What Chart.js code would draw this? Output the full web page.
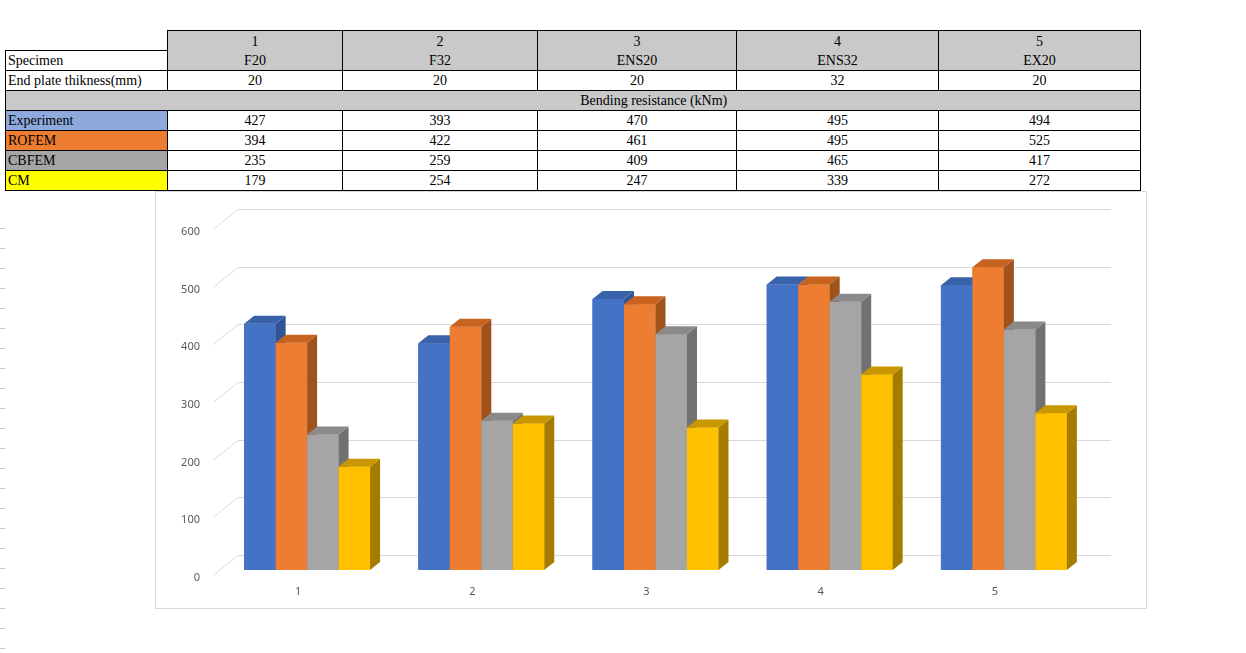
<!DOCTYPE html>
<html>
<head>
<meta charset="utf-8">
<script src="https://cdn.jsdelivr.net/npm/chart.js@4.4.0/dist/chart.umd.min.js"></script>
<style>
  body { margin: 0; background: #fff; width: 1246px; height: 653px; overflow: hidden; position: relative; }
  #data { position: absolute; left: 5px; top: 30px; border-collapse: collapse; table-layout: fixed;
          font-family: "Liberation Serif", "Times New Roman", serif; font-size: 14px; color: #000; }
  #data td { border: 1px solid #000; height: 18px; padding: 1px 2px 0 2px; text-align: center; line-height: 18px; white-space: nowrap; }
  #data td.name { text-align: left; }
  #data td.head { background: #c9c9c9; line-height: 19px; }
  #data td.blank { border: none; }
  #data td.grey { background: #c9c9c9; }
  #box { position: absolute; left: 155px; top: 191px; width: 990px; height: 416px; border: 1px solid #d9d9d9; background: #fff; }
  #dashes { position: absolute; left: 0; top: 228px; width: 5px; height: 424px;
            background: repeating-linear-gradient(to bottom, #c8c8c8 0, #c8c8c8 1px, transparent 1px, transparent 20px); }
</style>
</head>
<body>
<table id="data"></table>
<div id="dashes"></div>
<div id="box"><canvas id="bendingChart" width="990" height="416"></canvas></div>
<script>
// Specimen table and chart data
var categories = ['1', '2', '3', '4', '5'];
var specimens = ['F20', 'F32', 'ENS20', 'ENS32', 'EX20'];
var thickness = [20, 20, 20, 32, 20];
var experiment = [427, 393, 470, 495, 494];
var rofem = [394, 422, 461, 495, 525];
var cbfem = [235, 259, 409, 465, 417];
var cm = [179, 254, 247, 339, 272];
var yTicks = [0, 100, 200, 300, 400, 500, 600];

// Build the table above the chart
var colWidths = [162, 175, 195, 199, 202, 202];
var table = document.getElementById('data');
var html = '<colgroup>' + colWidths.map(function (w) { return '<col style="width:' + w + 'px">'; }).join('') + '</colgroup>';
html += '<tr><td class="blank"></td>' + categories.map(function (c, i) {
  return '<td class="head" rowspan="2">' + c + '<br>' + specimens[i] + '</td>';
}).join('') + '</tr>';
html += '<tr><td class="name">Specimen</td></tr>';
html += '<tr><td class="name">End plate thikness(mm)</td>' + thickness.map(function (t) { return '<td>' + t + '</td>'; }).join('') + '</tr>';
html += '<tr><td class="grey" style="border-right:none"></td><td class="grey" colspan="5" style="border-left:none">Bending resistance (kNm)</td></tr>';
var rows = [
  { name: 'Experiment', bg: '#8ea9db', values: experiment },
  { name: 'ROFEM', bg: '#ed7d31', values: rofem },
  { name: 'CBFEM', bg: '#a5a5a5', values: cbfem },
  { name: 'CM', bg: '#ffff00', values: cm }
];
rows.forEach(function (r) {
  html += '<tr><td class="name" style="background:' + r.bg + '">' + r.name + '</td>' +
    r.values.map(function (v) { return '<td>' + v + '</td>'; }).join('') + '</tr>';
});
table.innerHTML = html;

// Colours for front, top and side faces of each series
var faces = [
  { front: '#4472c4', top: '#3a62aa', side: '#2f5597' },
  { front: '#ed7d31', top: '#c8621f', side: '#a0521c' },
  { front: '#a5a5a5', top: '#8a8a8a', side: '#717171' },
  { front: '#ffc000', top: '#c99700', side: '#a67c00' }
];

// Depth offsets of the 3D look, relative to the bar front plane
var FRONT = { x: -7, y: 5 };
var BACK = { x: 18, y: -15 };
var BAR = { x: 10, y: -8 };

var threeD = {
  id: 'threeD',
  beforeDatasetsDraw: function (chart) {
    var c = chart.ctx, area = chart.chartArea, ys = chart.scales.y;
    c.save();
    c.strokeStyle = '#d9d9d9';
    c.lineWidth = 1;
    yTicks.forEach(function (v) {
      var y = Math.round(ys.getPixelForValue(v)) + 0.5;
      c.beginPath();
      c.moveTo(area.left + FRONT.x, y + FRONT.y);
      c.lineTo(area.left + BACK.x, y + BACK.y);
      c.lineTo(area.right + 20, y + BACK.y);
      c.stroke();
    });
    c.fillStyle = '#595959';
    c.font = '11px "Noto Sans", sans-serif';
    c.textAlign = 'right';
    c.textBaseline = 'middle';
    yTicks.forEach(function (v) {
      c.fillText(String(v), area.left - 20, ys.getPixelForValue(v) + FRONT.y + 3);
    });
    c.textAlign = 'center';
    categories.forEach(function (cat, i) {
      c.fillText(cat, chart.scales.x.getPixelForValue(i) - 9, area.bottom + 22);
    });
    c.restore();
  },
  afterDatasetsDraw: function (chart) {
    var c = chart.ctx;
    c.save();
    categories.forEach(function (cat, i) {
      chart.data.datasets.forEach(function (ds, d) {
        var bar = chart.getDatasetMeta(d).data[i];
        var w = bar.width, x = bar.x - w / 2, y = bar.y, b = bar.base;
        var f = faces[d];
        c.fillStyle = f.front;
        c.fillRect(x, y, w, b - y);
        c.fillStyle = f.side;
        c.beginPath();
        c.moveTo(x + w, y);
        c.lineTo(x + w + BAR.x, y + BAR.y);
        c.lineTo(x + w + BAR.x, b + BAR.y);
        c.lineTo(x + w, b);
        c.closePath();
        c.fill();
        c.fillStyle = f.top;
        c.beginPath();
        c.moveTo(x, y);
        c.lineTo(x + BAR.x, y + BAR.y);
        c.lineTo(x + w + BAR.x, y + BAR.y);
        c.lineTo(x + w, y);
        c.closePath();
        c.fill();
      });
    });
    c.restore();
  }
};

var ctx = document.getElementById('bendingChart').getContext('2d');
new Chart(ctx, {
  type: 'bar',
  data: {
    labels: categories,
    datasets: [
      { label: 'Experiment', data: experiment, backgroundColor: faces[0].front },
      { label: 'ROFEM', data: rofem, backgroundColor: faces[1].front },
      { label: 'CBFEM', data: cbfem, backgroundColor: faces[2].front },
      { label: 'CM', data: cm, backgroundColor: faces[3].front }
    ]
  },
  options: {
    responsive: false,
    animation: false,
    layout: { padding: { left: 64, right: 55, top: 32, bottom: 38 } },
    datasets: { bar: { barPercentage: 1, categoryPercentage: 0.723 } },
    plugins: { legend: { display: false }, tooltip: { enabled: false } },
    scales: {
      x: { display: false },
      y: { display: false, min: 0, max: 600 }
    }
  },
  plugins: [threeD]
});
</script>
</body>
</html>
